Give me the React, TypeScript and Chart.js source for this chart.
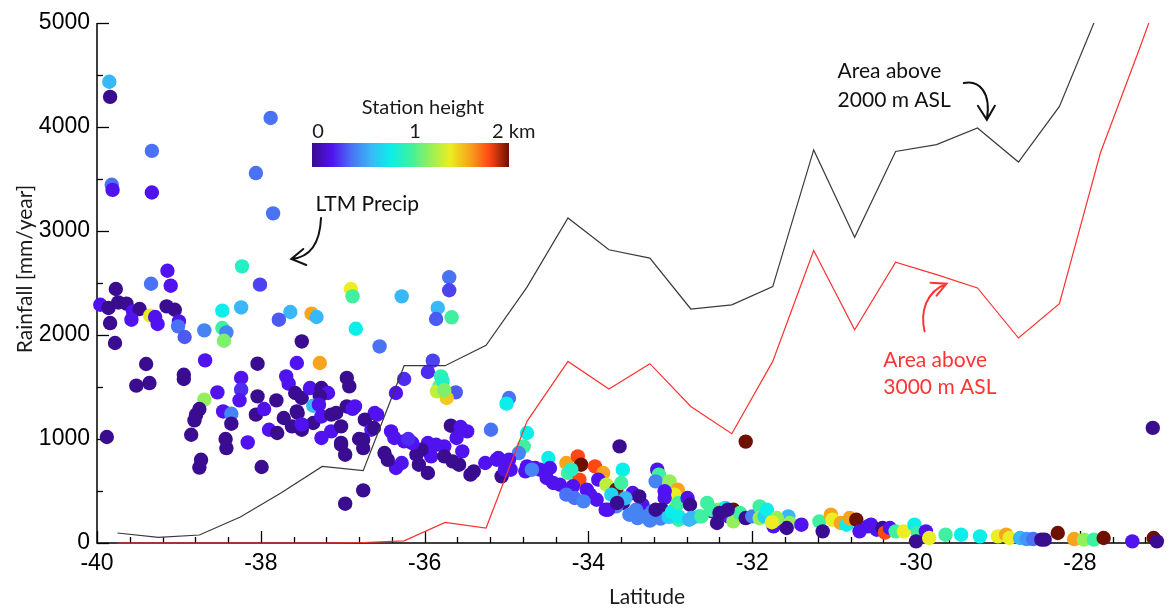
import React, { useEffect, useRef } from "react";
import { Chart, registerables } from "chart.js";

Chart.register(...registerables);

// ---------- Axis ticks ----------
const xTickValues = [-40, -38, -36, -34, -32, -30, -28];
const yTickValues = [0, 1000, 2000, 3000, 4000, 5000];

// ---------- Area lines (mm/year) ----------
const lineLatitudes = [
  -39.75, -39.25, -38.75, -38.25, -37.75, -37.25, -36.75, -36.25, -35.75, -35.25,
  -34.75, -34.25, -33.75, -33.25, -32.75, -32.25, -31.75, -31.25, -30.75, -30.25,
  -29.75, -29.25, -28.75, -28.25, -27.75, -27.25, -26.75,
];
const area2000 = [
  96, 55, 77, 250, 484, 736, 695, 1705, 1705, 1900,
  2460, 3125, 2820, 2740, 2250, 2290, 2465, 3780, 2940, 3765,
  3830, 3990, 3663, 4198, 5150, 6000, 6800,
];
const area3000 = [
  0, 0, 0, 0, 0, 0, 5, 20, 198, 144,
  1170, 1746, 1480, 1724, 1313, 1051, 1746, 2813, 2051, 2700,
  2580, 2452, 1971, 2301, 3750, 4800, 5900,
];

// ---------- Stations: latitude, LTM precip, height (km) ----------
const latA = [-39.85,-39.84,-39.82,-39.81,-39.33,-39.33,-37.88,-38.06,-37.85,-38.23,-38.01,-39.14,-39.10,-39.34,-39.77,-36.90,-36.88,-36.28,-35.70,-35.70,-35.84,-35.86,-35.67,-36.55,-35.90,-35.96,-35.80,-35.82,-35.85,-35.62,-35.73,-36.25,-36.35,-34.97,-35.00,-35.78,-35.76];
const rainA = [4435,4290,3445,3395,3770,3370,4087,3557,3169,2660,2484,2618,2474,2493,2442,2442,2371,2371,2555,2430,2260,2154,2170,1890,1753,1644,1602,1506,1458,1448,1394,1577,1442,1394,1340,1560,1470];
const hA = [0.6,0,0.4,0.2,0.4,0.2,0.4,0.4,0.4,0.9,0.3,0.2,0.2,0.4,0,1.4,1.0,0.6,0.4,0.3,0.6,0.35,1.0,0.4,0.3,0.25,0.95,1.1,1.3,0.35,1.5,0.25,0.2,0.4,0.8,0.9,1.15];

const latB = [-39.96,-39.86,-39.74,-39.64,-39.56,-39.48,-39.35,-39.29,-39.26,-39.58,-39.84,-39.15,-39.05,-39.00,-39.01,-38.93,-38.69,-38.47,-38.24,-38.47,-38.42,-38.45,-37.64,-37.78,-37.50,-39.78,-39.40,-38.68,-38.04,-37.56,-38.94,-38.94,-39.52,-39.36,-38.24,-38.24,-38.26,-38.53,-38.69,-38.04,-37.81,-37.69,-37.66,-37.58,-37.50,-38.75,-38.79,-38.81,-38.46,-38.36,-38.36,-38.06,-37.96,-37.72,-37.56,-37.90,-37.80,-37.62,-37.50,-38.85,-38.43,-38.42,-38.16,-39.88,-38.73,-38.75,-37.99,-36.97,-36.75];
const rainB = [2291,2260,2313,2301,2227,2250,2186,2173,2106,2147,2115,2275,2243,2131,2083,1981,2044,2234,2265,2067,2025,1945,2221,2147,1938,1923,1721,1756,1724,1731,1618,1577,1513,1538,1587,1474,1371,1448,1378,1410,1371,1602,1532,1442,1394,1288,1234,1179,1265,1243,1147,1234,1288,1202,1265,1089,1058,1121,1089,1041,1000,913,967,1019,800,725,731,378,506];
const hB = [0.2,0,0,0,0.2,0,1.4,0.2,0.2,0.2,0,0,0,0.2,0.4,0.35,0.45,0.8,0.6,1.0,0.45,1.15,0.6,0.35,0,0,0,0.2,0,0.2,0,0,0,0,0.2,0.25,0.2,0.2,1.2,0,0,0.2,0.2,0,0,0,0,0,0.2,0.45,0,0,0.2,0,0,0.2,0,0,0,0,0,0,0.2,0,0,0,0,0,0];

const latC = [-37.28,-37.38,-37.32,-36.84,-36.95,-36.92,-37.40,-37.26,-37.18,-37.28,-37.36,-37.29,-37.55,-37.36,-37.26,-37.14,-37.08,-36.95,-36.85,-36.61,-36.73,-36.65,-37.14,-37.02,-37.26,-37.02,-36.97,-36.75,-36.80,-36.49,-36.35,-36.88,-36.58,-36.62,-36.75,-37.02,-37.50];
const rainC = [1731,2205,2173,2060,1587,1506,1490,1490,1442,1410,1320,1330,1250,1154,1217,1234,1250,1313,1313,1250,1186,1089,1073,1121,1010,962,849,913,1000,865,721,1290,1234,1106,993,945,1140];
const hC = [1.6,1.6,0.6,0.8,0,0,0.2,0,0.2,0,0.6,0.2,0,0,0.2,0,0,0,0.2,0.2,0,0.2,0.2,0,0.2,0,0,0,0,0,0.2,0.2,0.2,0,0,0,0.2];

const latD = [-35.19,-35.68,-35.56,-35.48,-35.61,-35.54,-35.76,-35.86,-35.96,-35.92,-35.76,-35.66,-35.58,-36.04,-36.10,-36.15,-36.25,-36.41,-36.37,-36.45,-36.28,-36.07,-35.96,-35.44,-35.40,-35.26,-35.10,-35.06,-35.02,-36.20];
const rainD = [1089,1128,1115,1073,1010,881,929,945,961,833,833,785,753,897,849,961,977,1073,1010,800,769,753,673,657,689,769,817,641,705,1000];
const hD = [0.4,0,0.2,0.2,0.2,0.2,0.2,0.2,0.2,0.2,0,0,0,0,0,0.2,0.2,0.2,0.2,0,0.2,0,0,0,0,0.2,0.2,0,0.2,0.25];

const latE = [-34.75,-34.79,-34.85,-35.12,-34.97,-34.95,-34.75,-34.77,-34.65,-34.59,-34.49,-34.47,-34.51,-34.43,-34.35,-34.27,-34.25,-34.13,-34.09,-34.11,-34.19,-34.27,-34.17,-34.02,-33.92,-33.82,-33.88,-33.78,-33.62,-33.58,-33.66,-33.60,-33.72,-33.58,-33.46,-33.34,-33.42,-33.66,-33.76,-33.90,-33.98,-34.06,-33.16,-33.14,-33.18,-33.01,-32.91,-32.95,-33.07,-33.07,-33.10,-32.93,-32.90,-33.22,-33.30,-33.50,-33.40,-34.69,-34.21,-33.38,-33.55,-33.25,-33.12,-33.02,-32.98];
const rainE = [1058,929,865,801,801,705,737,689,721,705,817,721,625,577,561,769,673,833,753,609,545,465,433,513,737,673,609,561,929,705,513,577,465,385,481,368,320,352,320,416,465,400,705,657,593,593,513,465,497,433,320,352,224,304,256,272,240,705,705,448,430,215,235,250,300];
const hE = [0.8,1.0,0.45,0.2,0.2,0.2,0.2,0.2,0.2,0.2,0.8,0.2,0.2,0.2,0.2,1.6,1.0,1.8,2.0,1.8,0.2,0.4,0.4,0.2,1.8,1.6,0.2,1.3,0,0.8,2.0,1.0,0.7,0,0.2,0.2,0.45,0.45,0.2,0.2,0.2,0.45,0.2,1.0,0.45,1.2,1.6,1.4,0.2,0.2,0,1.2,1.0,0.45,0.45,0.45,0.45,0.45,0.9,0,0.6,0.45,0.45,0.7,0.8];

const latF = [-32.90,-32.79,-32.76,-32.90,-32.77,-32.65,-32.55,-32.49,-32.43,-32.41,-32.33,-32.23,-32.29,-32.23,-32.15,-32.08,-32.00,-31.91,-31.91,-31.85,-31.74,-31.72,-31.56,-31.54,-31.58,-31.40,-31.18,-31.14,-31.04,-31.02,-30.92,-30.85,-30.81,-30.73,-30.69,-30.59,-30.48,-33.79,-33.65,-33.18,-32.74,-32.62,-32.50,-32.40,-32.30,-31.82,-31.70,-31.76];
const rainF = [385,433,368,256,224,256,385,304,192,320,337,320,256,208,288,240,256,352,240,256,160,224,256,192,144,176,208,112,272,224,192,176,240,224,112,160,128,320,385,320,240,256,320,290,320,320,240,200];
const hF = [1.0,0.2,0,0.8,0.6,0.8,1.0,0.2,0,1.2,0.8,2.0,0.2,1.2,1.0,0,0.45,1.0,1.2,0.7,0.2,1.4,0.6,1.2,0,0.2,1.0,0,1.6,1.4,1.6,0.8,1.6,2.0,0.2,0.2,0.2,0.2,0,0,0.6,1.0,1.0,0,0,0.8,1.2,1.4];

const latG = [-30.55,-30.41,-30.38,-30.32,-30.25,-30.15,-30.02,-29.98,-29.88,-30.00,-29.84,-29.64,-29.45,-29.22,-29.00,-28.90,-28.86,-28.73,-28.65,-28.57,-28.47,-28.43,-28.27,-28.07,-27.95,-27.83,-27.71,-27.36,-27.10,-27.06,-27.11,-32.08];
const rainG = [176,144,100,144,112,112,176,96,112,16,48,80,80,64,64,80,48,48,38,38,32,32,96,38,32,32,48,16,48,16,1107,975];
const hG = [0.2,0,1.8,0.2,1.0,1.4,0.8,1.0,0.2,0,1.4,1.0,0.8,0.8,1.4,1.6,1.4,0.6,0.5,0.4,0,0,2.0,1.6,1.2,1.0,2.0,0.2,2.0,0,0,2.0];

const stationLat = [...latA, ...latB, ...latC, ...latD, ...latE, ...latF, ...latG];
const stationRain = [...rainA, ...rainB, ...rainC, ...rainD, ...rainE, ...rainF, ...rainG];
const stationHeight = [...hA, ...hB, ...hC, ...hD, ...hE, ...hF, ...hG];

// ---------- Colour map for station height (0..2 km) ----------
const heightStops = [0, 0.2, 0.4, 0.6, 0.8, 1.0, 1.2, 1.4, 1.6, 1.8, 2.0];
const heightColors = [
  "#3a0c90", "#5012ee", "#4a72f4", "#38b8f8", "#0ceeea", "#3ef0a0",
  "#94f05a", "#eaee22", "#f8a41c", "#ff4814", "#6e1000",
];

function hexToRgb(h: string) {
  const n = parseInt(h.slice(1), 16);
  return [(n >> 16) & 255, (n >> 8) & 255, n & 255];
}
function colorFor(h: number) {
  const v = Math.max(heightStops[0], Math.min(heightStops[heightStops.length - 1], h));
  let i = 0;
  while (i < heightStops.length - 2 && v > heightStops[i + 1]) i++;
  const f = (v - heightStops[i]) / (heightStops[i + 1] - heightStops[i]);
  const a = hexToRgb(heightColors[i]);
  const b = hexToRgb(heightColors[i + 1]);
  const c = a.map((x, k) => Math.round(x + (b[k] - x) * f));
  return `rgb(${c[0]},${c[1]},${c[2]})`;
}

const TICK_FONT = '"Liberation Sans", Arial, sans-serif';
const TEXT_FONT = 'Lato, "Open Sans", sans-serif';
const RED = "#ff3434";

const decorPlugin = {
  id: "decor",
  beforeDatasetsDraw(chart: any) {
    const { ctx, chartArea } = chart;
    const xs = chart.scales.x;
    const ys = chart.scales.y;
    const { left, right, top, bottom } = chartArea;
    ctx.save();
    ctx.strokeStyle = "#000";
    ctx.lineWidth = 1.5;
    ctx.beginPath();
    ctx.moveTo(left, top);
    ctx.lineTo(left, bottom);
    ctx.lineTo(right, bottom);
    ctx.stroke();
    ctx.lineWidth = 1.3;
    for (let i = 0; i <= 32; i++) {
      const v = -40 + i * 0.4;
      if (v > -27) break;
      const px = Math.round(xs.getPixelForValue(v)) + 0.5;
      const len = i % 5 === 0 ? 12 : 6;
      ctx.beginPath();
      ctx.moveTo(px, bottom);
      ctx.lineTo(px, bottom - len);
      ctx.stroke();
    }
    for (let i = 0; i <= 10; i++) {
      const v = i * 500;
      const py = Math.round(ys.getPixelForValue(v)) + 0.5;
      const len = i % 2 === 0 ? 12 : 6;
      ctx.beginPath();
      ctx.moveTo(left, py);
      ctx.lineTo(left + len, py);
      ctx.stroke();
    }
    ctx.restore();
  },
  afterDraw(chart: any) {
    const { ctx } = chart;
    const xs = chart.scales.x;
    const ys = chart.scales.y;
    const P = (lat: number, rain: number) => [xs.getPixelForValue(lat), ys.getPixelForValue(rain)];
    ctx.save();
    ctx.fillStyle = "#1a1a1a";
    ctx.font = `21px ${TEXT_FONT}`;
    ctx.textAlign = "center";
    ctx.textBaseline = "middle";
    ctx.fillText("Latitude", 647, 597);
    ctx.save();
    ctx.translate(25, 269);
    ctx.rotate(-Math.PI / 2);
    ctx.fillText("Rainfall [mm/year]", 0, 0);
    ctx.restore();

    // colour bar
    const cbL = 312, cbR = 509, cbT = 143, cbB = 167;
    const grad = ctx.createLinearGradient(cbL, 0, cbR, 0);
    heightStops.forEach((s, k) => grad.addColorStop(s / 2, heightColors[k]));
    ctx.fillStyle = grad;
    ctx.fillRect(cbL, cbT, cbR - cbL, cbB - cbT);
    ctx.fillStyle = "#1a1a1a";
    ctx.font = `20px ${TEXT_FONT}`;
    ctx.textAlign = "center";
    ctx.fillText("Station height", 423, 108);
    ctx.fillText("0", 318, 132);
    ctx.fillText("1", 415, 132);
    ctx.textAlign = "left";
    ctx.fillText("2 km", 492, 132);

    // LTM Precip annotation
    ctx.font = `21px ${TEXT_FONT}`;
    ctx.textAlign = "left";
    ctx.fillStyle = "#111";
    let [tx, ty] = P(-37.333, 3253);
    ctx.fillText("LTM Precip", tx, ty);
    ctx.strokeStyle = "#111";
    ctx.lineWidth = 2;
    ctx.lineCap = "round";
    const [a1x, a1y] = P(-37.265, 3125);
    const [c1x, c1y] = P(-37.285, 2753);
    const [e1x, e1y] = P(-37.628, 2731);
    ctx.beginPath();
    ctx.moveTo(a1x, a1y);
    ctx.quadraticCurveTo(c1x, c1y, e1x, e1y);
    ctx.moveTo(e1x + 12, e1y - 10);
    ctx.lineTo(e1x, e1y);
    ctx.lineTo(e1x + 15, e1y + 6);
    ctx.stroke();

    // Area above 2000 m
    [tx, ty] = P(-30.958, 4532);
    ctx.fillText("Area above", tx, ty);
    [tx, ty] = P(-30.958, 4262);
    ctx.fillText("2000 m ASL", tx, ty);
    const [b0x, b0y] = P(-29.418, 4423);
    const [b1x, b1y] = P(-29.236, 4455);
    const [b2x, b2y] = P(-29.079, 4340);
    const [b3x, b3y] = P(-29.136, 4070);
    ctx.beginPath();
    ctx.moveTo(b0x, b0y);
    ctx.bezierCurveTo(b1x, b1y, b2x, b2y, b3x, b3y);
    ctx.moveTo(b3x - 9, b3y - 14);
    ctx.lineTo(b3x, b3y);
    ctx.lineTo(b3x + 8, b3y - 14);
    ctx.stroke();

    // Area above 3000 m
    ctx.fillStyle = RED;
    ctx.strokeStyle = RED;
    [tx, ty] = P(-30.4, 1762);
    ctx.fillText("Area above", tx, ty);
    [tx, ty] = P(-30.4, 1494);
    ctx.fillText("3000 m ASL", tx, ty);
    const [r0x, r0y] = P(-29.896, 2035);
    const [r1x, r1y] = P(-29.952, 2225);
    const [r2x, r2y] = P(-29.879, 2417);
    const [r3x, r3y] = P(-29.628, 2493);
    ctx.beginPath();
    ctx.moveTo(r0x, r0y);
    ctx.bezierCurveTo(r1x, r1y, r2x, r2y, r3x, r3y);
    ctx.moveTo(r3x - 16, r3y - 1);
    ctx.lineTo(r3x, r3y);
    ctx.lineTo(r3x - 10, r3y + 12);
    ctx.stroke();
    ctx.restore();
  },
};

export default function App() {
  const canvasRef = useRef<HTMLCanvasElement | null>(null);

  useEffect(() => {
    document.body.style.margin = "0";
    const canvas = canvasRef.current;
    if (!canvas) return;

    const stations = stationLat.map((x, i) => ({ x, y: stationRain[i] }));
    const stationColors = stationHeight.map(colorFor);
    const line2000 = lineLatitudes.map((x, i) => ({ x, y: area2000[i] }));
    const line3000 = lineLatitudes.map((x, i) => ({ x, y: area3000[i] }));

    const chart = new Chart(canvas, {
      type: "scatter",
      data: {
        datasets: [
          {
            label: "Area above 2000 m ASL",
            data: line2000,
            showLine: true,
            borderColor: "#3a3a3a",
            borderWidth: 1.2,
            pointRadius: 0,
            tension: 0,
            order: 0,
            clip: { left: 2, right: 2, top: 0, bottom: 4 },
          } as any,
          {
            label: "Area above 3000 m ASL",
            data: line3000,
            showLine: true,
            borderColor: "#ff3030",
            borderWidth: 1.2,
            pointRadius: 0,
            tension: 0,
            order: 0,
            clip: { left: 2, right: 2, top: 0, bottom: 4 },
          } as any,
          {
            label: "LTM Precip",
            data: stations,
            backgroundColor: stationColors,
            pointBackgroundColor: stationColors,
            pointRadius: 7.2,
            pointBorderWidth: 0,
            borderWidth: 0,
            order: 1,
            clip: false,
          } as any,
        ],
      },
      options: {
        animation: false,
        responsive: true,
        maintainAspectRatio: false,
        events: [],
        layout: { padding: { top: 23, left: 0, right: 0, bottom: 0 } },
        plugins: { legend: { display: false }, tooltip: { enabled: false } },
        scales: {
          x: {
            type: "linear",
            min: -40,
            max: -27,
            afterBuildTicks: (s: any) => {
              s.ticks = xTickValues.map((v) => ({ value: v }));
            },
            afterFit: (s: any) => {
              s.height = 67;
            },
            grid: { display: false, drawTicks: false },
            border: { display: false },
            ticks: {
              color: "#000",
              padding: 7,
              maxRotation: 0,
              autoSkip: false,
              font: { family: TICK_FONT, size: 23 },
              callback: (v: any) => String(v),
            },
          },
          y: {
            type: "linear",
            min: 0,
            max: 5000,
            afterBuildTicks: (s: any) => {
              s.ticks = yTickValues.map((v) => ({ value: v }));
            },
            afterFit: (s: any) => {
              s.width = 97;
            },
            grid: { display: false, drawTicks: false },
            border: { display: false },
            ticks: {
              color: "#000",
              padding: 7,
              autoSkip: false,
              font: { family: TICK_FONT, size: 23 },
              callback: (v: any) => String(v),
            },
          },
        },
      } as any,
      plugins: [decorPlugin],
    });

    return () => chart.destroy();
  }, []);

  return (
    <div style={{ position: "relative", width: 1169, height: 610, background: "#fff" }}>
      <canvas ref={canvasRef} />
    </div>
  );
}
